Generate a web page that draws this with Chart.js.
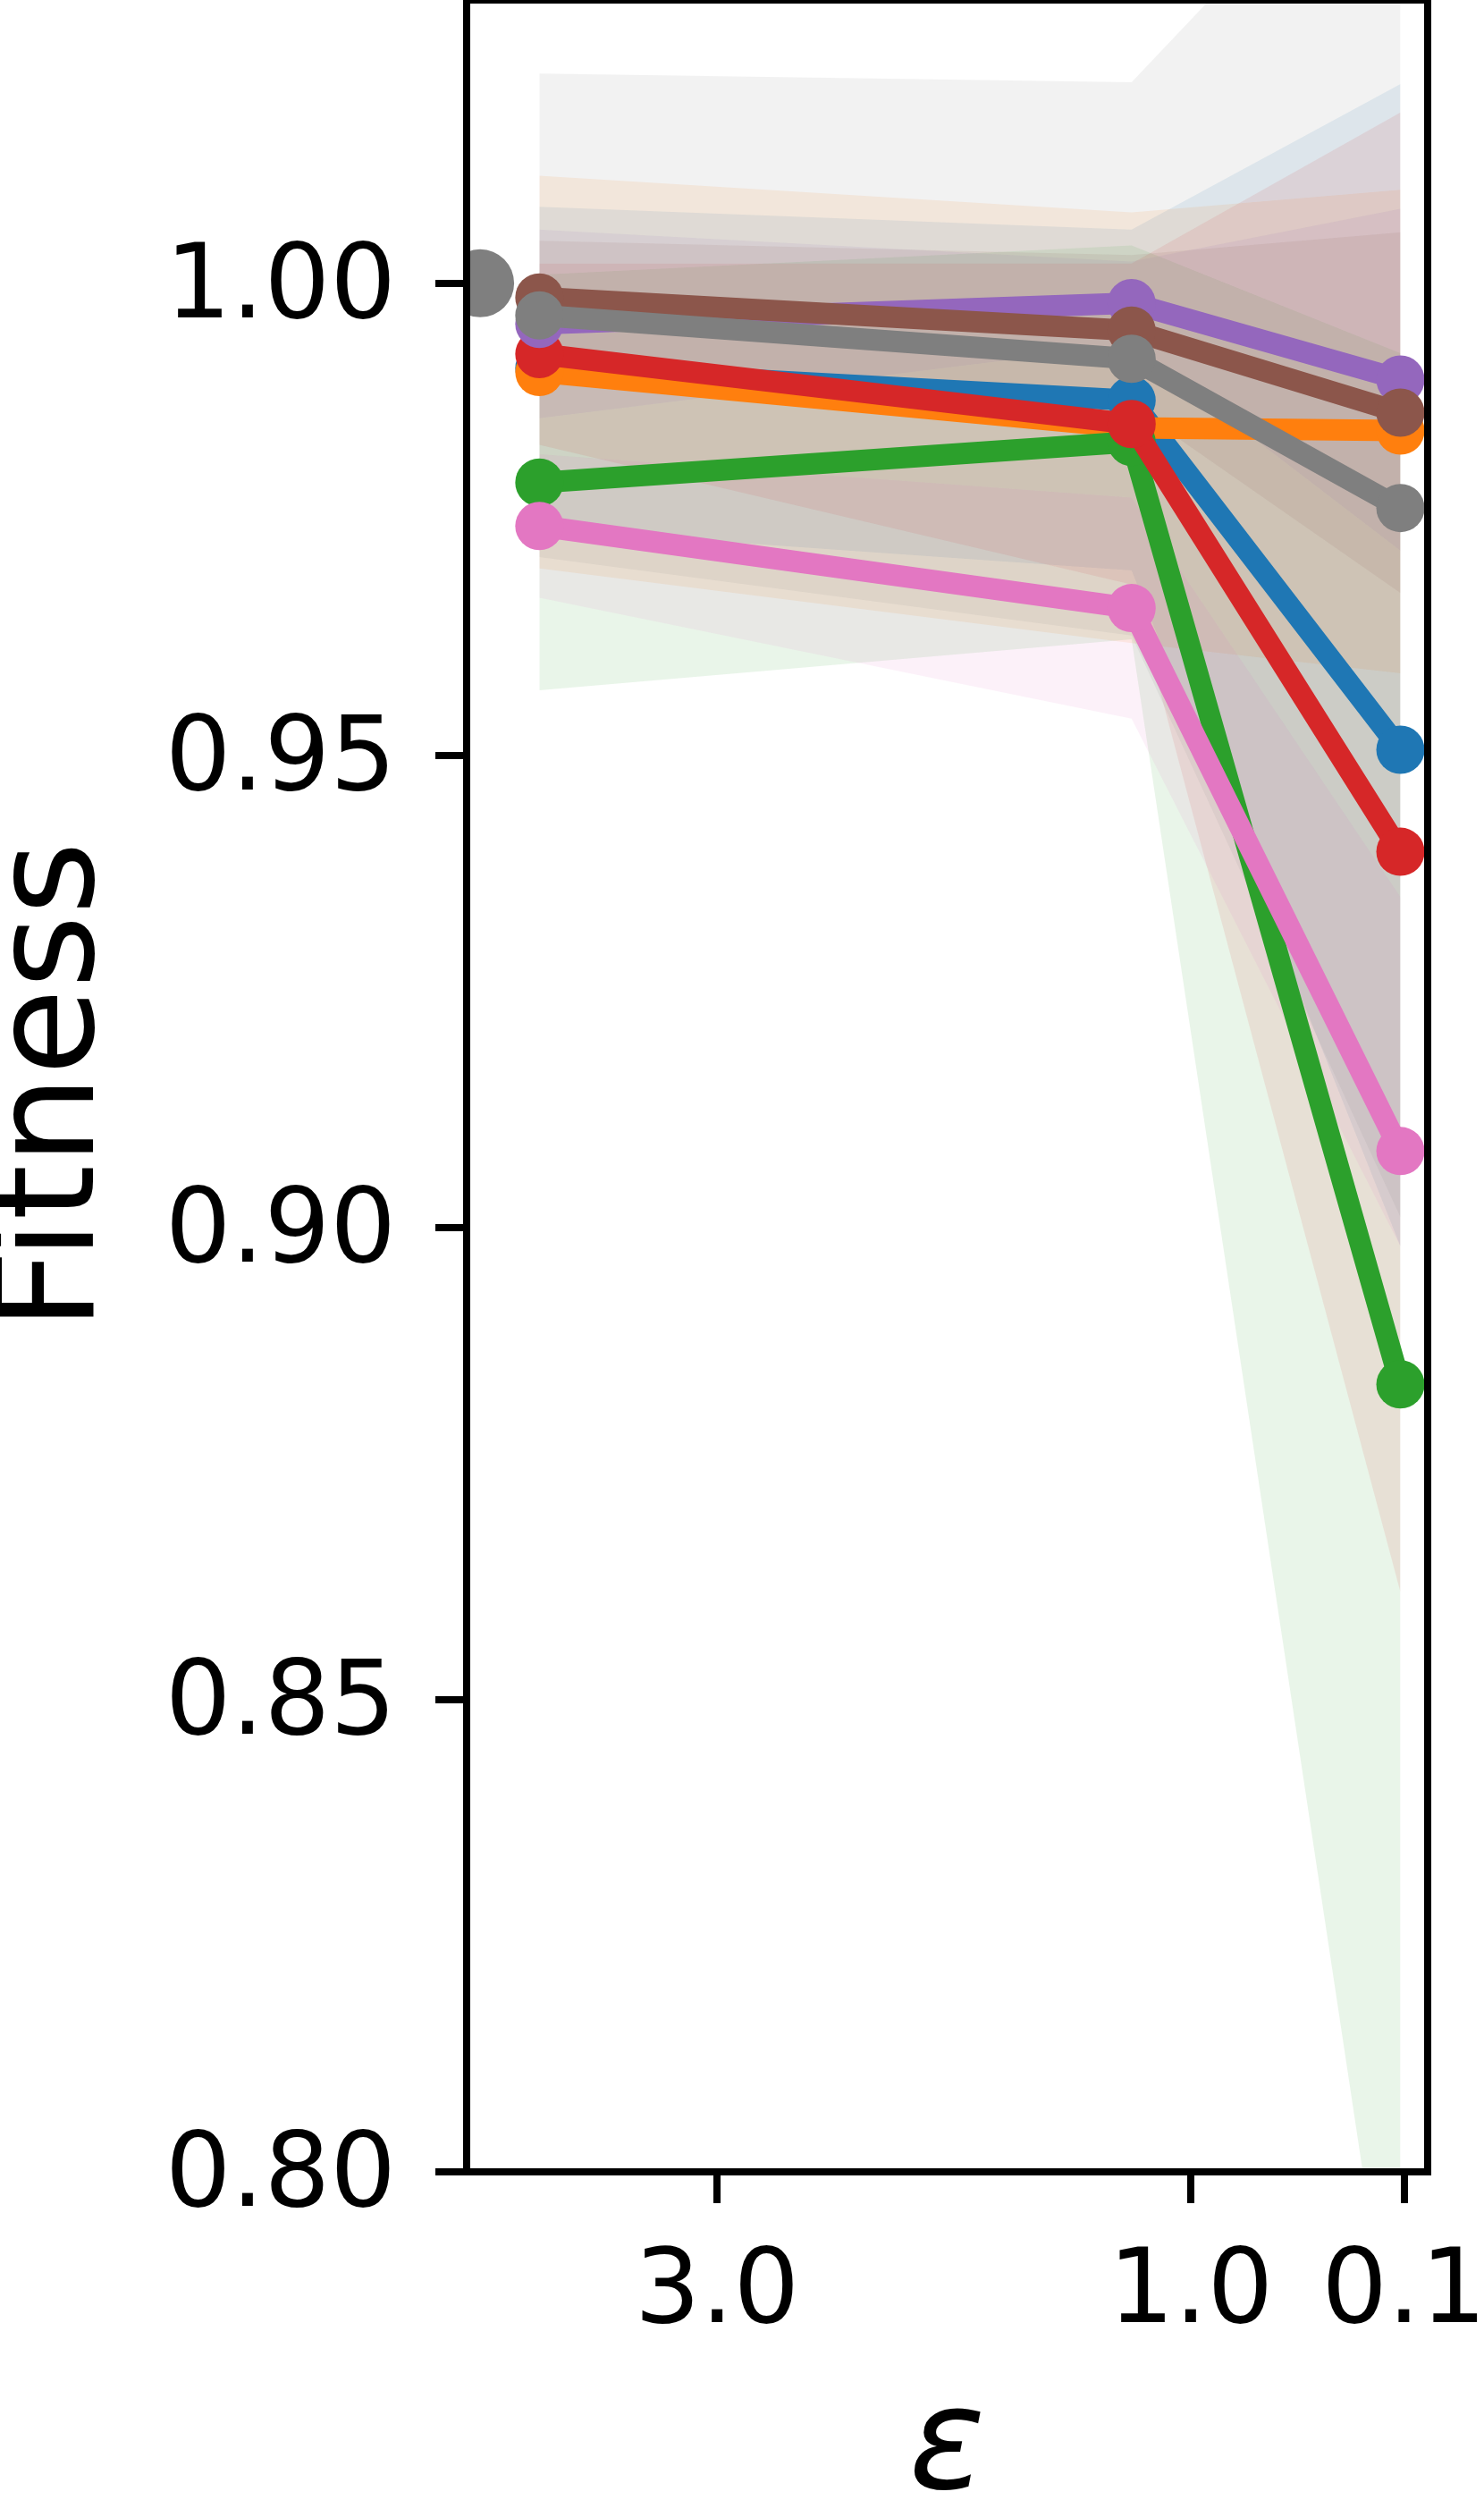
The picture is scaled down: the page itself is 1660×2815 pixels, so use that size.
<!DOCTYPE html>
<html>
<head>
<meta charset="utf-8">
<script src="https://cdn.jsdelivr.net/npm/chart.js@4.4.0/dist/chart.umd.min.js"></script>
<style>
html, body { margin: 0; padding: 0; background: #ffffff; }
#caja { width: 1660px; height: 2815px; }
</style>
</head>
<body>
<div id="caja"><canvas id="miGrafico" width="1660" height="2815"></canvas></div>
<script>
// valores de epsilon (eje x invertido)
const epsilons = [3.75, 1.25, 0.115];
const xTicks = [3.0, 1.0, 0.1];
const yTicks = [0.80, 0.85, 0.90, 0.95, 1.00];

// punto de referencia sin privacidad
const baseEps = [4.0];
const baseFit = [1.00];

// media, limite inferior y superior de cada serie
const fitBlue = [0.9910, 0.9876, 0.9506];
const lowBlue = [0.9740, 0.9696, 0.8980];
const highBlue = [1.0081, 1.0057, 1.0211];
const fitOrange = [0.9906, 0.9847, 0.9844];
const lowOrange = [0.9698, 0.9619, 0.9587];
const highOrange = [1.0114, 1.0075, 1.0099];
const fitGreen = [0.9789, 0.9832, 0.8834];
const lowGreen = [0.9569, 0.9623, 0.7736];
const highGreen = [1.0009, 1.0040, 0.9926];
const fitRed = [0.9925, 0.9851, 0.9398];
const lowRed = [0.9829, 0.9681, 0.8614];
const highRed = [1.0021, 1.0021, 1.0181];
const fitPurple = [0.9957, 0.9979, 0.9898];
const lowPurple = [0.9857, 0.9935, 0.9717];
const highPurple = [1.0057, 1.0023, 1.0079];
const fitBrown = [0.9985, 0.9950, 0.9863];
const lowBrown = [0.9925, 0.9870, 0.9672];
const highBrown = [1.0045, 1.0030, 1.0054];
const fitPink = [0.9743, 0.9656, 0.9081];
const lowPink = [0.9667, 0.9539, 0.8980];
const highPink = [0.9819, 0.9773, 0.9350];
const fitGray = [0.9966, 0.9920, 0.9762];
const lowGray = [0.9710, 0.9627, 0.9011];
const highGray = [1.0222, 1.0213, 1.0513];

const series = [
    {mean: fitBlue, low: lowBlue, high: highBlue, rgb: [31, 119, 180]},
    {mean: fitOrange, low: lowOrange, high: highOrange, rgb: [255, 127, 14]},
    {mean: fitGreen, low: lowGreen, high: highGreen, rgb: [44, 160, 44]},
    {mean: fitRed, low: lowRed, high: highRed, rgb: [214, 39, 40]},
    {mean: fitPurple, low: lowPurple, high: highPurple, rgb: [148, 103, 189]},
    {mean: fitBrown, low: lowBrown, high: highBrown, rgb: [140, 86, 75]},
    {mean: fitPink, low: lowPink, high: highPink, rgb: [227, 119, 194]},
    {mean: fitGray, low: lowGray, high: highGray, rgb: [127, 127, 127]}
];

const fuente = "'DejaVu Sans', 'Liberation Sans', sans-serif";

const datasets = [];
// bandas: Chart.js las pinta de la ultima a la primera, asi que van al reves
series.slice().reverse().forEach((s) => {
    const col = s.rgb.join(',');
    datasets.push({
        data: epsilons.map((e, k) => ({x: e, y: s.low[k]})),
        borderWidth: 0, pointRadius: 0, fill: false, order: 100
    });
    datasets.push({
        data: epsilons.map((e, k) => ({x: e, y: s.high[k]})),
        borderWidth: 0, pointRadius: 0, fill: '-1',
        backgroundColor: `rgba(${col},0.1)`, order: 100
    });
});
// lineas con marcadores
series.forEach((s, i) => {
    const col = `rgb(${s.rgb.join(',')})`;
    datasets.push({
        data: epsilons.map((e, k) => ({x: e, y: s.mean[k]})),
        borderColor: col,
        backgroundColor: col,
        borderWidth: 24,
        borderJoinStyle: 'round',
        pointRadius: 27,
        pointBorderWidth: 0,
        pointBackgroundColor: col,
        fill: false,
        order: 20 - i
    });
});
datasets.push({
    data: baseEps.map((e, k) => ({x: e, y: baseFit[k]})),
    showLine: false,
    pointRadius: 38,
    pointBorderWidth: 0,
    pointBackgroundColor: 'rgb(127,127,127)',
    clip: 0,
    order: 1
});

// marco completo del area del grafico
const marco = {
    id: 'marco',
    afterDraw(chart) {
        const a = chart.chartArea;
        const ctx = chart.ctx;
        ctx.save();
        ctx.strokeStyle = '#000';
        ctx.lineWidth = 8;
        ctx.strokeRect(a.left, a.top, a.right - a.left, a.bottom - a.top);
        ctx.restore();
    }
};

// sin relleno extra por las etiquetas
function sinPadding(scale) {
    scale.paddingTop = 0;
    scale.paddingBottom = 0;
    scale.paddingLeft = 0;
    scale.paddingRight = 0;
}

const ctx = document.getElementById('miGrafico').getContext('2d');
const miGrafico = new Chart(ctx, {
    type: 'line',
    data: {datasets: datasets},
    plugins: [marco],
    options: {
        responsive: false,
        animation: false,
        devicePixelRatio: 1,
        layout: {autoPadding: false, padding: {left: 0, right: 63, top: 0, bottom: 0}},
        plugins: {
            legend: {display: false},
            tooltip: {enabled: false},
            filler: {drawTime: 'beforeDatasetsDraw'}
        },
        scales: {
            x: {
                type: 'linear',
                reverse: true,
                min: 0,
                max: 4.057,
                afterFit: (scale) => { scale.height = 386; sinPadding(scale); },
                afterBuildTicks: (scale) => { scale.ticks = xTicks.map(v => ({value: v})); },
                ticks: {
                    autoSkip: false,
                    maxRotation: 0,
                    padding: 33,
                    color: '#000',
                    font: {family: fuente, size: 116},
                    callback: (v) => Number(v).toFixed(1)
                },
                grid: {
                    drawOnChartArea: false,
                    drawTicks: true,
                    tickLength: 35,
                    tickWidth: 8,
                    tickColor: '#000',
                    lineWidth: 8,
                    color: '#000'
                },
                border: {display: false},
                title: {
                    display: true,
                    text: 'ε',
                    color: '#000',
                    font: {family: fuente, size: 158, style: 'italic', lineHeight: 0.8},
                    padding: {top: 0, bottom: 10}
                }
            },
            y: {
                type: 'linear',
                min: 0.80,
                max: 1.03,
                afterFit: (scale) => { scale.width = 522; sinPadding(scale); },
                afterBuildTicks: (scale) => { scale.ticks = yTicks.map(v => ({value: v})); },
                ticks: {
                    padding: 44,
                    labelOffset: 8,
                    color: '#000',
                    font: {family: fuente, size: 116},
                    callback: (v) => Number(v).toFixed(2)
                },
                grid: {
                    drawOnChartArea: false,
                    drawTicks: true,
                    tickLength: 35,
                    tickWidth: 8,
                    tickColor: '#000',
                    lineWidth: 8,
                    color: '#000'
                },
                border: {display: false},
                title: {
                    display: true,
                    text: 'Fitness',
                    color: '#000',
                    font: {family: fuente, size: 158, lineHeight: 0.8},
                    padding: {top: 0, bottom: 0}
                }
            }
        }
    }
});
</script>
</body>
</html>
